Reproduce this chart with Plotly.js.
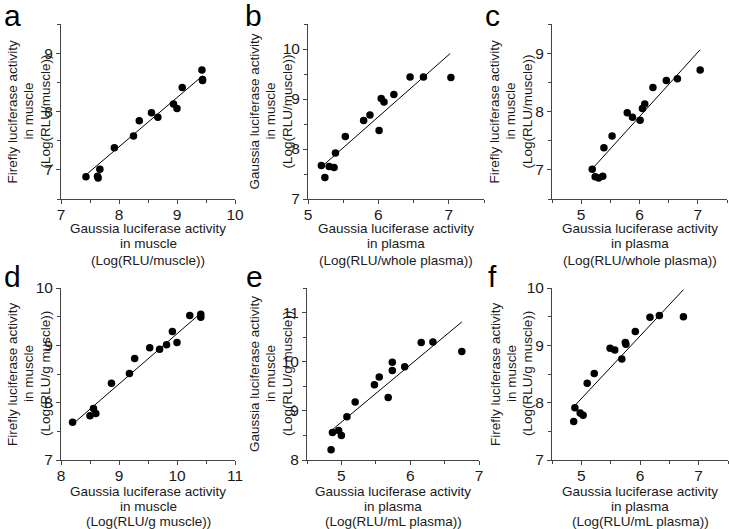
<!DOCTYPE html>
<html>
<head>
<meta charset="utf-8">
<script src="https://cdn.plot.ly/plotly-3.0.1.min.js"></script>
<style>html,body{margin:0;padding:0;background:#fff;}#chart{width:729px;height:529px;}</style>
</head>
<body>
<div id="chart"></div>
<script>
// ---- data ----
const aX = [7.43, 7.63, 7.64, 7.67, 7.92, 8.25, 8.35, 8.56, 8.67, 8.94, 9.00, 9.09, 9.43, 9.44, 9.44];
const aY = [6.88, 6.89, 6.86, 7.01, 7.38, 7.58, 7.84, 7.98, 7.90, 8.13, 8.05, 8.41, 8.71, 8.55, 8.53];
const aFitX = [7.45, 9.44];
const aFitY = [6.93, 8.61];

const bX = [5.19, 5.24, 5.30, 5.37, 5.39, 5.53, 5.79, 5.88, 6.01, 6.04, 6.08, 6.22, 6.45, 6.64, 7.03];
const bY = [7.67, 7.43, 7.65, 7.63, 7.92, 8.25, 8.57, 8.68, 8.37, 9.01, 8.94, 9.09, 9.44, 9.44, 9.43];
const bFitX = [5.23, 7.02];
const bFitY = [7.69, 9.91];

const cX = [5.19, 5.24, 5.30, 5.37, 5.39, 5.53, 5.79, 5.88, 6.01, 6.05, 6.09, 6.23, 6.46, 6.65, 7.04];
const cY = [7.01, 6.88, 6.86, 6.89, 7.38, 7.58, 7.98, 7.90, 7.85, 8.05, 8.13, 8.41, 8.53, 8.56, 8.71];
const cFitX = [5.22, 7.04];
const cFitY = [7.05, 9.06];

const dX = [8.20, 8.50, 8.56, 8.60, 8.87, 9.18, 9.27, 9.53, 9.70, 9.82, 9.92, 10.00, 10.22, 10.41, 10.41];
const dY = [7.66, 7.77, 7.90, 7.81, 8.34, 8.51, 8.77, 8.96, 8.93, 9.01, 9.24, 9.05, 9.52, 9.54, 9.49];
const dFitX = [8.23, 10.42];
const dFitY = [7.65, 9.57];

const eX = [4.85, 4.87, 4.96, 5.00, 5.08, 5.20, 5.48, 5.55, 5.68, 5.74, 5.74, 5.92, 6.16, 6.33, 6.75];
const eY = [8.21, 8.56, 8.60, 8.50, 8.88, 9.18, 9.53, 9.69, 9.27, 9.82, 9.99, 9.90, 10.39, 10.40, 10.21];
const eFitX = [4.88, 6.75];
const eFitY = [8.63, 10.81];

const fX = [4.87, 4.89, 4.98, 5.03, 5.10, 5.22, 5.49, 5.57, 5.69, 5.75, 5.76, 5.92, 6.17, 6.33, 6.74];
const fY = [7.67, 7.91, 7.82, 7.78, 8.34, 8.51, 8.95, 8.92, 8.76, 9.05, 9.02, 9.24, 9.49, 9.52, 9.50];
const fFitX = [4.89, 6.74];
const fFitY = [7.95, 9.97];

const panelLetters = ['a', 'b', 'c', 'd', 'e', 'f'];
const xTitleLines = [
  ['Gaussia luciferase activity', 'in muscle', '(Log(RLU/muscle))'],
  ['Gaussia luciferase activity', 'in plasma', '(Log(RLU/whole plasma))'],
  ['Gaussia luciferase activity', 'in plasma', '(Log(RLU/whole plasma))'],
  ['Gaussia luciferase activity', 'in muscle', '(Log(RLU/g muscle))'],
  ['Gaussia luciferase activity', 'in plasma', '(Log(RLU/mL plasma))'],
  ['Gaussia luciferase activity', 'in plasma', '(Log(RLU/mL plasma))']
];
const yTitleLines = [
  ['Firefly luciferase activity', 'in muscle', '(Log(RLU/muscle))'],
  ['Gaussia luciferase activity', 'in muscle', '(Log(RLU/muscle))'],
  ['Firefly luciferase activity', 'in muscle', '(Log(RLU/muscle))'],
  ['Firefly luciferase activity', 'in muscle', '(Log(RLU/g muscle))'],
  ['Gaussia luciferase activity', 'in muscle', '(Log(RLU/g muscle))'],
  ['Firefly luciferase activity', 'in muscle', '(Log(RLU/g muscle))']
];
const xRanges = [[7, 10], [5, 7.5], [4.5, 7.5], [8, 11], [4.5, 7], [4.5, 7.5]];
const yRanges = [[6.5, 9.5], [7, 10.5], [6.5, 9.5], [7, 10], [8, 11.5], [7, 10]];
const xTickVals = [[7, 8, 9, 10], [5, 6, 7], [5, 6, 7], [8, 9, 10, 11], [5, 6, 7], [5, 6, 7]];
const yTickVals = [[7, 8, 9], [7, 8, 9, 10], [7, 8, 9], [7, 8, 9, 10], [8, 9, 10, 11], [7, 8, 9, 10]];

const scatterX = [aX, bX, cX, dX, eX, fX];
const scatterY = [aY, bY, cY, dY, eY, fY];
const fitX = [aFitX, bFitX, cFitX, dFitX, eFitX, fFitX];
const fitY = [aFitY, bFitY, cFitY, dFitY, eFitY, fFitY];

// ---- layout geometry (pixels) ----
const W = 729, H = 529;
const pxX = [[61, 235], [308, 484], [552, 727], [61, 235], [307, 479], [552, 728]];
const pxY = [[24, 199], [24, 199], [24, 199], [288, 460], [288, 460], [288, 460]];
const letterPos = [[12, 15], [253, 15], [492, 15], [12, 276], [254, 276], [492, 276]];
const yTitleLineX = [[12, 28, 45], [254, 270, 287], [494, 510, 527], [12, 28, 45], [254, 270, 287], [495, 511, 527]];
const xTitleLineY = [[228, 244, 260], [228, 244, 260], [228, 244, 260], [491, 506, 521], [491, 506, 521], [491, 506, 521]];

const FONT = 'Liberation Sans, Arial, sans-serif';
const TXT = '#1a1a1a';
const TITLE_SIZE = 13.5;

const traces = [];
const layout = {
  width: W, height: H,
  margin: {l: 0, r: 0, t: 0, b: 0},
  paper_bgcolor: '#fff', plot_bgcolor: '#fff',
  showlegend: false,
  font: {family: FONT, color: TXT},
  annotations: []
};

for (let i = 0; i < 6; i++) {
  const n = i === 0 ? '' : String(i + 1);
  const xa = 'x' + n, ya = 'y' + n;
  traces.push({
    type: 'scatter', mode: 'markers', x: scatterX[i], y: scatterY[i],
    xaxis: xa, yaxis: ya, cliponaxis: false,
    marker: {color: '#000', size: 7.5}
  });
  traces.push({
    type: 'scatter', mode: 'lines', x: fitX[i], y: fitY[i],
    xaxis: xa, yaxis: ya,
    line: {color: '#000', width: 1}
  });
  const axCommon = {
    showgrid: false, zeroline: false, showline: true,
    linecolor: '#444', linewidth: 1,
    ticks: 'outside', ticklen: 4, tickwidth: 1, tickcolor: '#444',
    tickfont: {size: 15.5, family: FONT, color: TXT},
    tickmode: 'array',
    minor: {dtick: 0.5, ticks: 'outside', ticklen: 3, tickwidth: 1, tickcolor: '#444'},
    fixedrange: true
  };
  layout['xaxis' + n] = Object.assign({}, axCommon, {
    domain: [pxX[i][0] / W, pxX[i][1] / W],
    range: xRanges[i], tickvals: xTickVals[i],
    ticklabelstandoff: -3,
    anchor: ya
  });
  layout['yaxis' + n] = Object.assign({}, axCommon, {
    domain: [1 - pxY[i][1] / H, 1 - pxY[i][0] / H],
    range: yRanges[i], tickvals: yTickVals[i],
    anchor: xa
  });
  // panel letter
  layout.annotations.push({
    text: panelLetters[i], xref: 'paper', yref: 'paper',
    x: letterPos[i][0] / W, y: 1 - letterPos[i][1] / H,
    xanchor: 'center', yanchor: 'middle', showarrow: false,
    font: {size: 30, family: FONT, color: '#000'}
  });
  const xc = (pxX[i][0] + pxX[i][1]) / 2 / W;
  const yc = 1 - (pxY[i][0] + pxY[i][1]) / 2 / H;
  for (let k = 0; k < 3; k++) {
    // x-axis title lines
    layout.annotations.push({
      text: xTitleLines[i][k], xref: 'paper', yref: 'paper',
      x: xc, y: 1 - xTitleLineY[i][k] / H,
      xanchor: 'center', yanchor: 'middle', showarrow: false,
      font: {size: TITLE_SIZE, family: FONT, color: TXT}
    });
    // y-axis title lines (rotated)
    layout.annotations.push({
      text: yTitleLines[i][k], xref: 'paper', yref: 'paper',
      x: yTitleLineX[i][k] / W, y: yc,
      xanchor: 'center', yanchor: 'middle', textangle: -90, showarrow: false,
      font: {size: TITLE_SIZE, family: FONT, color: TXT}
    });
  }
}

Plotly.newPlot('chart', traces, layout, {staticPlot: true, displayModeBar: false});
</script>
</body>
</html>
